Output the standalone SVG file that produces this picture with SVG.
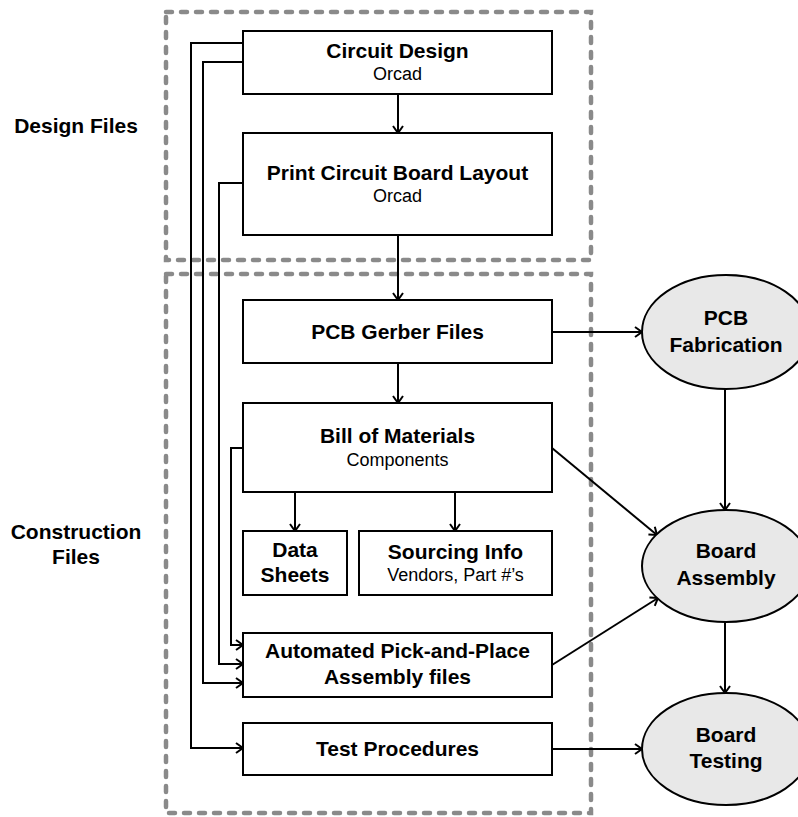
<svg xmlns="http://www.w3.org/2000/svg" width="798" height="817" viewBox="0 0 798 817">
<defs>
<style>
.grp{fill:none;stroke:#8a8a8a;stroke-width:4.5;stroke-dasharray:6 9;stroke-linecap:round}
.box{fill:#fff;stroke:#000;stroke-width:2}
.ell{fill:#e8e8e8;stroke:#000;stroke-width:2}
.t{font-family:"Liberation Sans",Arial,sans-serif;font-weight:bold;font-size:21px;fill:#000;text-anchor:middle}
.s{font-family:"Liberation Sans",Arial,sans-serif;font-size:18px;fill:#000;text-anchor:middle}
.c{fill:none;stroke:#000;stroke-width:2;marker-end:url(#arr)}
</style>
<marker id="arr" markerWidth="12" markerHeight="12" refX="9" refY="6" orient="auto" markerUnits="userSpaceOnUse">
<path d="M2,1 L9,6 L2,11" fill="none" stroke="#000" stroke-width="2"/>
</marker>
</defs>
<rect width="798" height="817" fill="#fff"/>
<g id="group-design">
<rect class="grp" x="166" y="12" width="425" height="248"/>
<text class="t" x="76" y="133">Design Files</text>
</g>
<g id="group-construction">
<rect class="grp" x="166" y="274" width="425" height="539"/>
<text class="t" x="76" y="539">Construction</text>
<text class="t" x="76" y="564">Files</text>
</g>
<g id="connectors">
<path class="c" d="M398,94 V133"/>
<path class="c" d="M398,235 V300"/>
<path class="c" d="M398,363 V403"/>
<path class="c" d="M295,492 V531"/>
<path class="c" d="M455,492 V531"/>
<path class="c" d="M243,43 H191 V748 H243"/>
<path class="c" d="M243,62 H203 V683 H243"/>
<path class="c" d="M243,183 H219 V664 H243"/>
<path class="c" d="M243,448 H231 V645 H243"/>
<path class="c" d="M552,332 H642"/>
<path class="c" d="M552,448 L657,535"/>
<path class="c" d="M552,665 L658,598"/>
<path class="c" d="M552,749 H642"/>
<path class="c" d="M725,389 V510"/>
<path class="c" d="M725,622 V693"/>
</g>
<g id="circuit-design">
<rect class="box" x="243" y="31" width="309" height="63"/>
<text class="t" x="397.5" y="58">Circuit Design</text>
<text class="s" x="397.5" y="80">Orcad</text>
</g>
<g id="pcb-layout">
<rect class="box" x="243" y="133" width="309" height="102"/>
<text class="t" x="397.5" y="180">Print Circuit Board Layout</text>
<text class="s" x="397.5" y="202">Orcad</text>
</g>
<g id="gerber">
<rect class="box" x="243" y="300" width="309" height="63"/>
<text class="t" x="397.5" y="339">PCB Gerber Files</text>
</g>
<g id="bom">
<rect class="box" x="243" y="403" width="309" height="89"/>
<text class="t" x="397.5" y="443">Bill of Materials</text>
<text class="s" x="397.5" y="466">Components</text>
</g>
<g id="data-sheets">
<rect class="box" x="243" y="531" width="104" height="64"/>
<text class="t" x="295" y="557">Data</text>
<text class="t" x="295" y="582">Sheets</text>
</g>
<g id="sourcing">
<rect class="box" x="359" y="531" width="193" height="64"/>
<text class="t" x="455.5" y="559">Sourcing Info</text>
<text class="s" x="455.5" y="581">Vendors, Part #’s</text>
</g>
<g id="pick-and-place">
<rect class="box" x="243" y="633" width="309" height="64"/>
<text class="t" x="397.5" y="658">Automated Pick-and-Place</text>
<text class="t" x="397.5" y="684">Assembly files</text>
</g>
<g id="test-procedures">
<rect class="box" x="243" y="723" width="309" height="52"/>
<text class="t" x="397.5" y="756">Test Procedures</text>
</g>
<g id="pcb-fabrication">
<ellipse class="ell" cx="726" cy="332" rx="84" ry="57"/>
<text class="t" x="726" y="325">PCB</text>
<text class="t" x="726" y="352">Fabrication</text>
</g>
<g id="board-assembly">
<ellipse class="ell" cx="726" cy="566" rx="84" ry="56"/>
<text class="t" x="726" y="558">Board</text>
<text class="t" x="726" y="585">Assembly</text>
</g>
<g id="board-testing">
<ellipse class="ell" cx="726" cy="749" rx="84" ry="56"/>
<text class="t" x="726" y="742">Board</text>
<text class="t" x="726" y="768">Testing</text>
</g>
</svg>
